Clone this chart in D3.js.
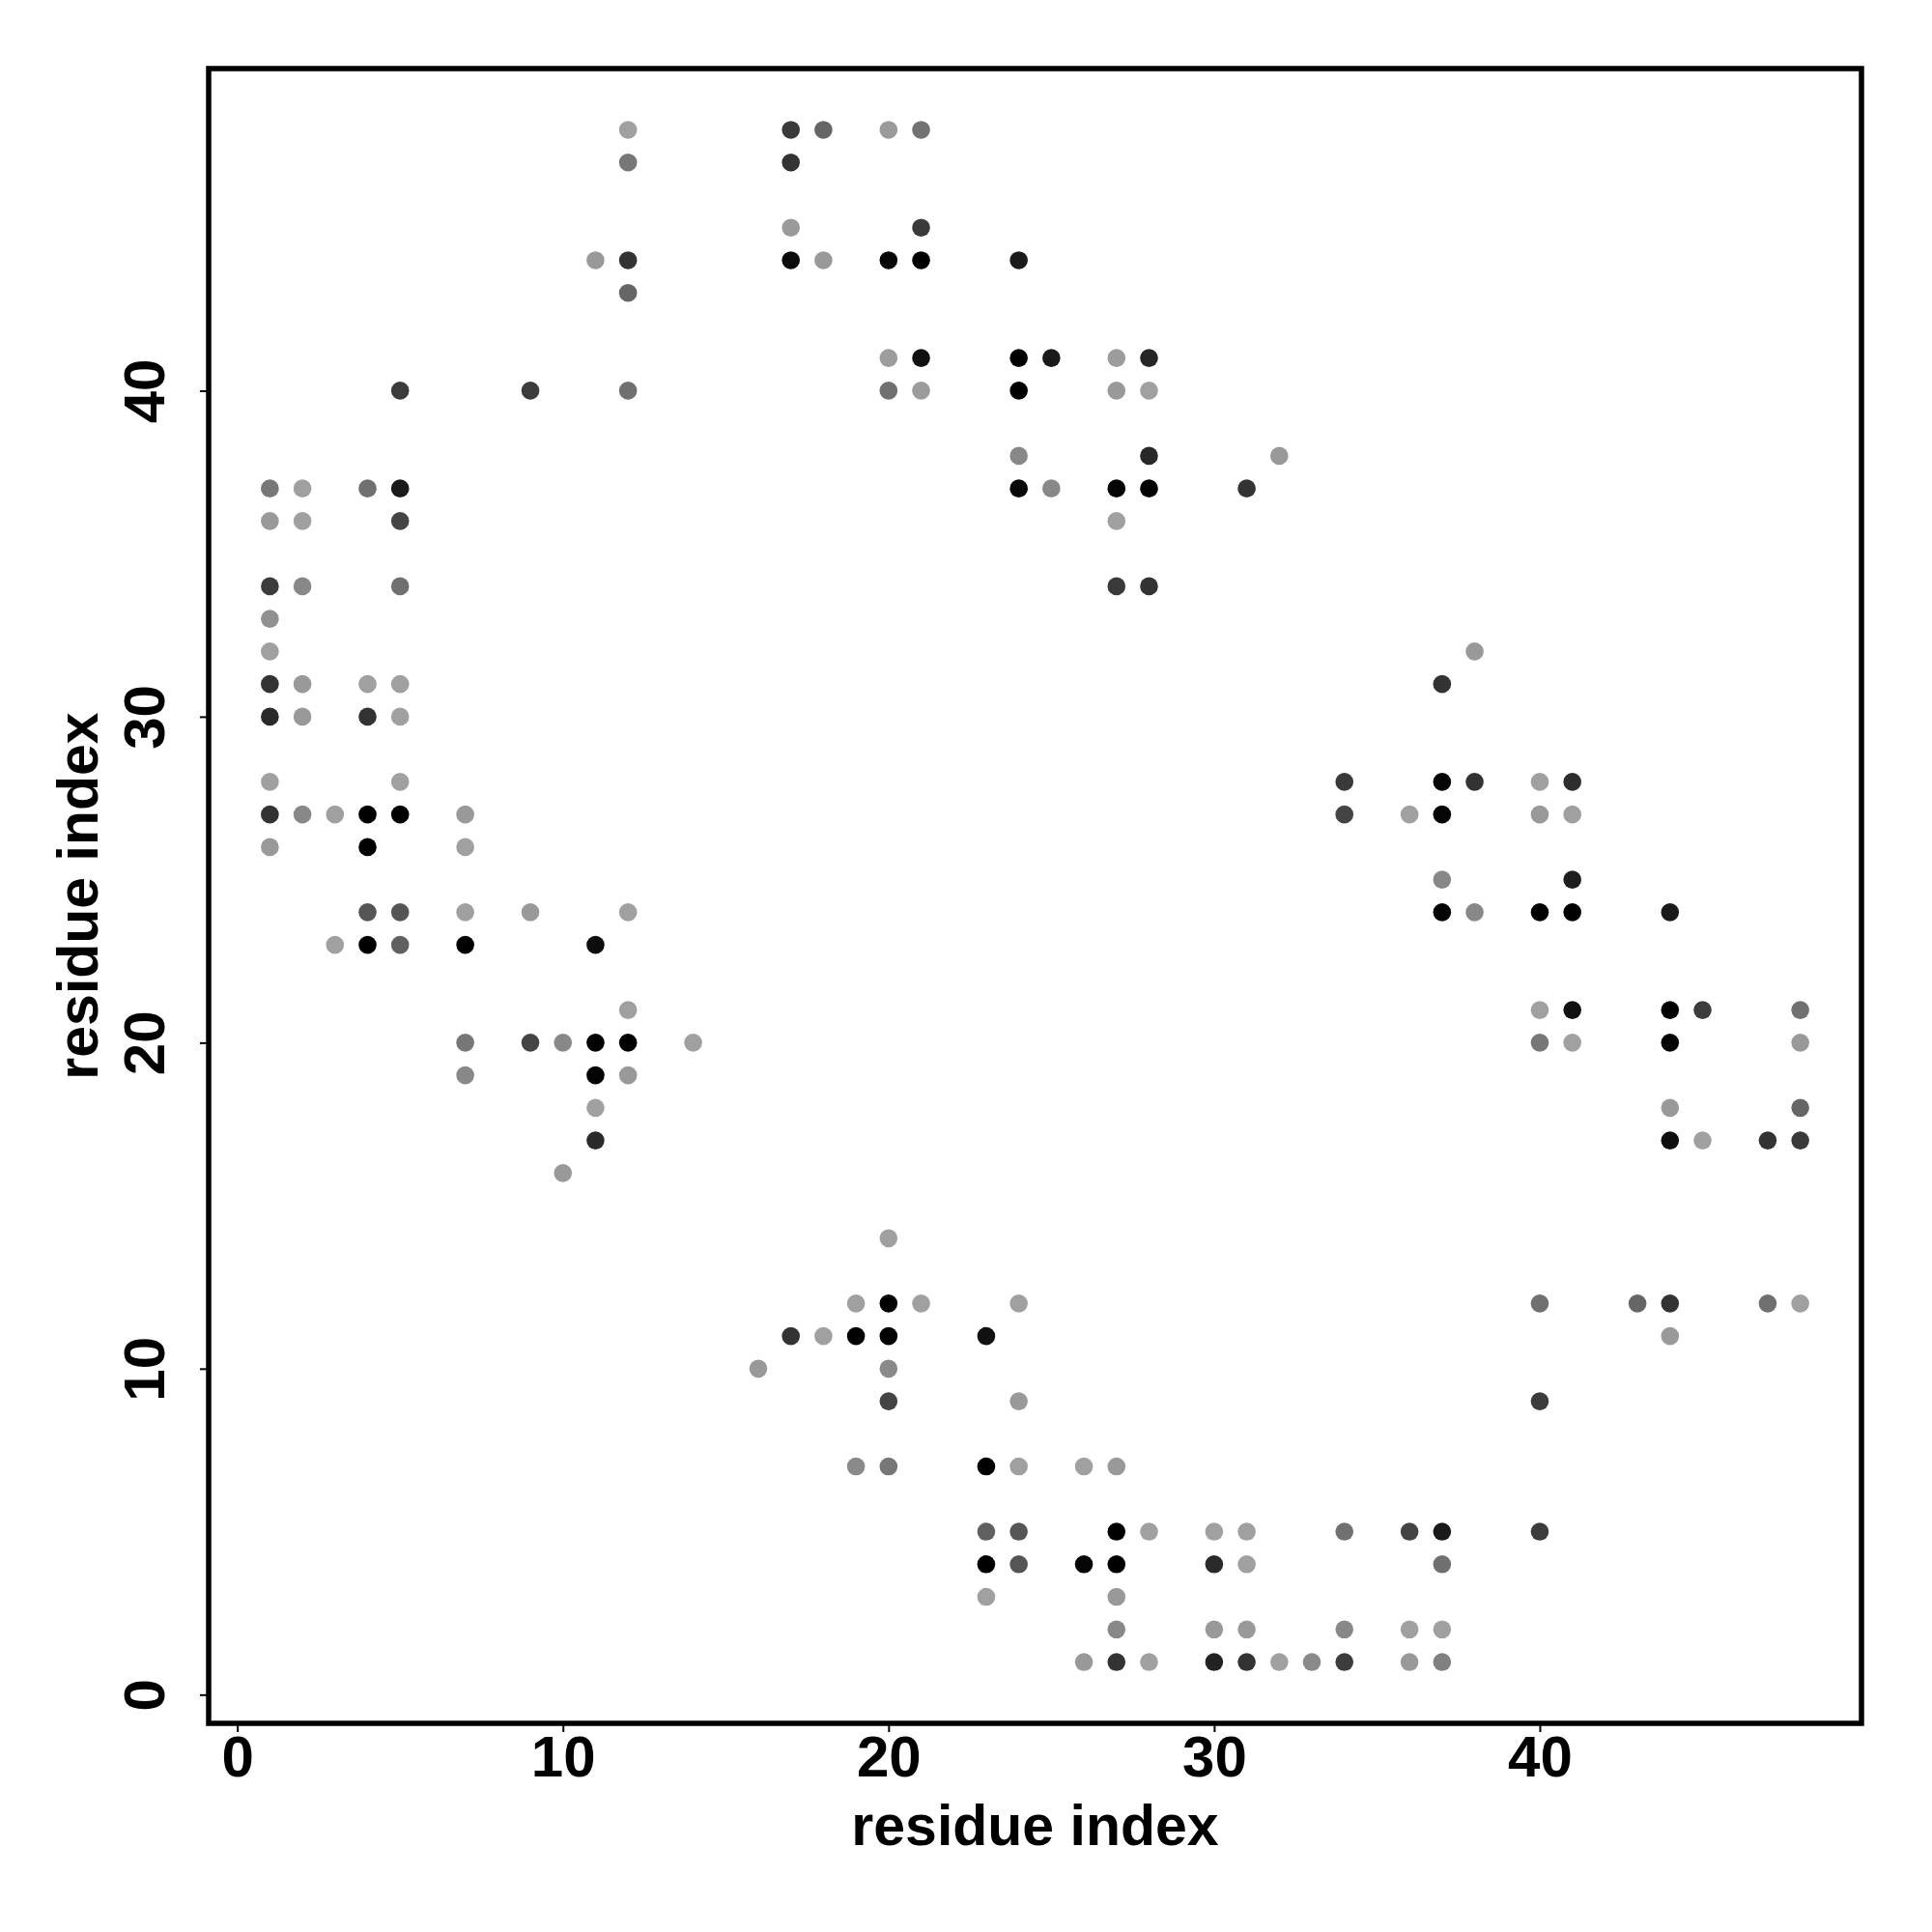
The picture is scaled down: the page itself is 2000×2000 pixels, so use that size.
<!DOCTYPE html>
<html>
<head>
<meta charset="utf-8">
<script src="https://cdn.jsdelivr.net/npm/d3@7"></script>
<style>
  html, body { margin: 0; padding: 0; background: #ffffff; }
  svg { display: block; }
  text { font-family: "Liberation Sans", Arial, Helvetica, sans-serif; font-weight: bold; fill: #000; }
</style>
</head>
<body>
<script>
// ---- data: contact map (row residue j, column residues i, grey level 0=black .. 160=light) ----
const rowResidue = [48, 47, 45, 44, 43, 41, 40, 38, 37, 36, 34, 33, 32, 31, 30, 28, 27, 26, 25, 24, 23, 21, 20, 19, 18, 17, 16, 14, 12, 11, 10, 9, 7, 5, 4, 3, 2, 1];
const colResidues = [
  [12, 17, 18, 20, 21],
  [12, 17],
  [17, 21],
  [11, 12, 17, 18, 20, 21, 24],
  [12],
  [20, 21, 24, 25, 27, 28],
  [5, 9, 12, 20, 21, 24, 27, 28],
  [24, 28, 32],
  [1, 2, 4, 5, 24, 25, 27, 28, 31],
  [1, 2, 5, 27],
  [1, 2, 5, 27, 28],
  [1],
  [1, 38],
  [1, 2, 4, 5, 37],
  [1, 2, 4, 5],
  [1, 5, 34, 37, 38, 40, 41],
  [1, 2, 3, 4, 5, 7, 34, 36, 37, 40, 41],
  [1, 4, 7],
  [37, 41],
  [4, 5, 7, 9, 12, 37, 38, 40, 41, 44],
  [3, 4, 5, 7, 11],
  [12, 40, 41, 44, 45, 48],
  [7, 9, 10, 11, 12, 14, 40, 41, 44, 48],
  [7, 11, 12],
  [11, 44, 48],
  [11, 44, 45, 47, 48],
  [10],
  [20],
  [19, 20, 21, 24, 40, 43, 44, 47, 48],
  [17, 18, 19, 20, 23, 44],
  [16, 20],
  [20, 24, 40],
  [19, 20, 23, 24, 26, 27],
  [23, 24, 27, 28, 30, 31, 34, 36, 37, 40],
  [23, 24, 26, 27, 30, 31, 37],
  [23, 27],
  [27, 30, 31, 34, 36, 37],
  [26, 27, 28, 30, 31, 32, 33, 34, 36, 37]
];
const greyLevels = [
  [160, 58, 102, 154, 114],
  [119, 51],
  [154, 58],
  [153, 51, 10, 153, 8, 0, 26],
  [102],
  [156, 17, 0, 26, 156, 38],
  [60, 60, 112, 112, 156, 0, 153, 160],
  [136, 40, 153],
  [119, 160, 112, 26, 8, 136, 5, 3, 51],
  [153, 160, 68, 160],
  [60, 136, 112, 58, 51],
  [144],
  [160, 153],
  [51, 153, 160, 160, 51],
  [42, 153, 51, 160],
  [160, 160, 58, 5, 51, 160, 46],
  [51, 136, 160, 0, 0, 153, 68, 160, 5, 153, 160],
  [153, 0, 160],
  [136, 30],
  [85, 85, 160, 153, 160, 5, 136, 0, 0, 26],
  [160, 0, 96, 0, 13],
  [160, 160, 17, 0, 60, 112],
  [119, 68, 136, 0, 0, 160, 119, 160, 5, 153],
  [136, 0, 153],
  [160, 153, 102],
  [42, 13, 160, 51, 58],
  [153],
  [160],
  [160, 0, 160, 160, 112, 102, 51, 112, 160],
  [51, 160, 0, 0, 17, 153],
  [153, 138],
  [68, 153, 60],
  [138, 119, 0, 160, 160, 153],
  [96, 85, 0, 160, 160, 160, 112, 68, 26, 60],
  [0, 85, 5, 0, 42, 160, 112],
  [160, 153],
  [136, 153, 153, 136, 160, 160],
  [153, 51, 160, 34, 51, 160, 138, 60, 153, 128]
];
const xTicks = [0, 10, 20, 30, 40];
const yTicks = [0, 10, 20, 30, 40];
const xTitle = "residue index";
const yTitle = "residue index";

// ---- build point table ----
const points = [];
rowResidue.forEach((j, r) => {
  colResidues[r].forEach((i, k) => points.push({ i: i, j: j, g: greyLevels[r][k] }));
});

// ---- layout ----
const W = 2000, H = 2000;
const box = { left: 216, right: 1927, top: 71, bottom: 1784 };
const dataMin = 1, dataMax = 48;
const pad = (dataMax - dataMin) * 0.04;

const x = d3.scaleLinear().domain([dataMin - pad, dataMax + pad]).range([box.left, box.right]);
const y = d3.scaleLinear().domain([dataMin - pad, dataMax + pad]).range([box.bottom, box.top]);

const svg = d3.select("body").append("svg").attr("width", W).attr("height", H);
svg.append("rect").attr("width", W).attr("height", H).attr("fill", "#ffffff");

// points
svg.append("g").selectAll("circle").data(points).join("circle")
  .attr("cx", d => x(d.i))
  .attr("cy", d => y(d.j))
  .attr("r", 9.3)
  .attr("fill", d => d3.rgb(d.g, d.g, d.g).formatHex());

// x axis
const gx = svg.append("g").attr("transform", `translate(0,${box.bottom})`)
  .call(d3.axisBottom(x).tickValues(xTicks).tickFormat(d3.format("d")).tickSize(9).tickSizeOuter(0));
gx.select(".domain").remove();
gx.selectAll(".tick line").attr("stroke", "#000").attr("stroke-width", 2);
gx.selectAll(".tick text").attr("y", 55).attr("dy", 0).attr("font-size", 60)
  .style("font-family", '"Liberation Sans", Arial, sans-serif').style("font-weight", "bold");

// y axis
const gy = svg.append("g").attr("transform", `translate(${box.left},0)`)
  .call(d3.axisLeft(y).tickValues(yTicks).tickFormat(d3.format("d")).tickSize(9).tickSizeOuter(0));
gy.select(".domain").remove();
gy.selectAll(".tick line").attr("stroke", "#000").attr("stroke-width", 2);
gy.selectAll(".tick text").attr("x", 0).attr("y", 0).attr("dy", 0)
  .attr("text-anchor", "middle")
  .attr("transform", "translate(-46,0) rotate(-90)")
  .attr("font-size", 60)
  .style("font-family", '"Liberation Sans", Arial, sans-serif').style("font-weight", "bold");

// frame
svg.append("rect")
  .attr("x", box.left).attr("y", box.top)
  .attr("width", box.right - box.left).attr("height", box.bottom - box.top)
  .attr("fill", "none").attr("stroke", "#000").attr("stroke-width", 5.5);

// titles
svg.append("text")
  .attr("x", (box.left + box.right) / 2).attr("y", 1910)
  .attr("text-anchor", "middle").attr("font-size", 59)
  .text(xTitle);
svg.append("text")
  .attr("transform", `translate(101,${(box.top + box.bottom) / 2}) rotate(-90)`)
  .attr("text-anchor", "middle").attr("font-size", 59)
  .text(yTitle);
</script>
</body>
</html>
